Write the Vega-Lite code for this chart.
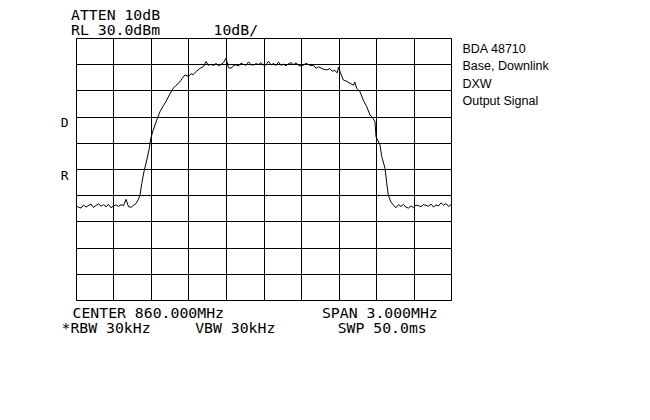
{
  "$schema": "https://vega.github.io/schema/vega-lite/v6.json",
  "width": 375,
  "height": 262,
  "autosize": {"type": "none"},
  "padding": {"left": 76, "top": 38, "right": 199, "bottom": 120},
  "background": "white",
  "config": {
    "view": {"stroke": "black", "strokeWidth": 1},
    "axis": {"domain": false, "ticks": false, "grid": true, "gridColor": "black", "gridOpacity": 1, "gridWidth": 1}
  },
  "title": {
    "text": ["ATTEN\u00a010dB", "RL\u00a030.0dBm\u00a0\u00a0\u00a0\u00a0\u00a0\u00a010dB/"],
    "anchor": "start",
    "frame": "group",
    "orient": "top",
    "baseline": "bottom",
    "dx": -5,
    "dy": 16,
    "offset": 1.5,
    "lineHeight": 14.3,
    "font": "DejaVu Sans Mono",
    "fontSize": 14.8,
    "fontWeight": "normal",
    "color": "black"
  },
  "data": {
    "values": [
      {"f": 858.50, "p": -34.0}, {"f": 858.52, "p": -34.6}, {"f": 858.54, "p": -34.9}, {"f": 858.56, "p": -33.8},
      {"f": 858.58, "p": -34.5}, {"f": 858.60, "p": -34.0}, {"f": 858.62, "p": -33.4}, {"f": 858.64, "p": -34.7},
      {"f": 858.66, "p": -33.9}, {"f": 858.68, "p": -33.3}, {"f": 858.70, "p": -34.2}, {"f": 858.72, "p": -33.6},
      {"f": 858.74, "p": -34.4}, {"f": 858.76, "p": -33.5}, {"f": 858.78, "p": -34.8}, {"f": 858.80, "p": -34.1},
      {"f": 858.82, "p": -33.7}, {"f": 858.84, "p": -34.3}, {"f": 858.86, "p": -33.6}, {"f": 858.88, "p": -34.0},
      {"f": 858.90, "p": -31.6}, {"f": 858.92, "p": -34.4}, {"f": 858.94, "p": -34.6}, {"f": 858.96, "p": -33.9},
      {"f": 858.98, "p": -33.2}, {"f": 859.00, "p": -31.5}, {"f": 859.012, "p": -29.9}, {"f": 859.026, "p": -25.5},
      {"f": 859.044, "p": -21.0}, {"f": 859.066, "p": -16.6}, {"f": 859.084, "p": -12.7}, {"f": 859.098, "p": -8.3},
      {"f": 859.118, "p": -5.1}, {"f": 859.146, "p": -1.3}, {"f": 859.172, "p": 1.9}, {"f": 859.20, "p": 4.2},
      {"f": 859.226, "p": 6.3}, {"f": 859.25, "p": 8.6}, {"f": 859.278, "p": 10.8}, {"f": 859.30, "p": 11.9},
      {"f": 859.332, "p": 13.3}, {"f": 859.35, "p": 14.6}, {"f": 859.372, "p": 15.9}, {"f": 859.40, "p": 15.3},
      {"f": 859.42, "p": 16.4}, {"f": 859.438, "p": 16.0}, {"f": 859.46, "p": 17.2}, {"f": 859.492, "p": 18.4},
      {"f": 859.52, "p": 19.1}, {"f": 859.54, "p": 21.0}, {"f": 859.56, "p": 19.6}, {"f": 859.58, "p": 19.9},
      {"f": 859.60, "p": 19.5}, {"f": 859.62, "p": 20.3}, {"f": 859.64, "p": 19.4}, {"f": 859.66, "p": 19.9},
      {"f": 859.68, "p": 20.6}, {"f": 859.70, "p": 22.3}, {"f": 859.72, "p": 18.6}, {"f": 859.74, "p": 18.5},
      {"f": 859.76, "p": 19.4}, {"f": 859.78, "p": 19.8}, {"f": 859.80, "p": 19.3}, {"f": 859.82, "p": 20.4},
      {"f": 859.84, "p": 19.9}, {"f": 859.86, "p": 19.6}, {"f": 859.88, "p": 20.9}, {"f": 859.90, "p": 19.8},
      {"f": 859.92, "p": 19.7}, {"f": 859.94, "p": 20.2}, {"f": 859.96, "p": 19.9}, {"f": 859.98, "p": 20.6},
      {"f": 860.00, "p": 19.6}, {"f": 860.02, "p": 19.8}, {"f": 860.04, "p": 21.1}, {"f": 860.06, "p": 19.7},
      {"f": 860.08, "p": 20.3}, {"f": 860.10, "p": 19.5}, {"f": 860.12, "p": 20.8}, {"f": 860.14, "p": 19.6},
      {"f": 860.16, "p": 20.0}, {"f": 860.18, "p": 19.4}, {"f": 860.20, "p": 20.2}, {"f": 860.22, "p": 20.6},
      {"f": 860.24, "p": 19.8}, {"f": 860.26, "p": 20.5}, {"f": 860.28, "p": 19.6}, {"f": 860.30, "p": 19.3},
      {"f": 860.32, "p": 19.7}, {"f": 860.34, "p": 20.3}, {"f": 860.36, "p": 19.9}, {"f": 860.38, "p": 19.4},
      {"f": 860.40, "p": 19.6}, {"f": 860.42, "p": 18.4}, {"f": 860.44, "p": 19.0}, {"f": 860.46, "p": 18.5},
      {"f": 860.48, "p": 18.1}, {"f": 860.506, "p": 17.8}, {"f": 860.53, "p": 18.3}, {"f": 860.55, "p": 17.4},
      {"f": 860.57, "p": 17.6}, {"f": 860.59, "p": 16.7}, {"f": 860.60, "p": 18.9}, {"f": 860.615, "p": 16.8},
      {"f": 860.638, "p": 14.0}, {"f": 860.66, "p": 13.6}, {"f": 860.692, "p": 12.7}, {"f": 860.72, "p": 12.0},
      {"f": 860.73, "p": 13.2}, {"f": 860.746, "p": 10.8}, {"f": 860.772, "p": 9.5}, {"f": 860.798, "p": 6.3},
      {"f": 860.826, "p": 3.8}, {"f": 860.852, "p": 0.6}, {"f": 860.87, "p": -0.2}, {"f": 860.892, "p": -2.0},
      {"f": 860.90, "p": -7.7}, {"f": 860.932, "p": -10.8}, {"f": 860.946, "p": -15.3}, {"f": 860.972, "p": -19.7},
      {"f": 860.986, "p": -25.5}, {"f": 860.998, "p": -29.9}, {"f": 861.018, "p": -32.5}, {"f": 861.038, "p": -33.7},
      {"f": 861.06, "p": -34.8}, {"f": 861.08, "p": -33.6}, {"f": 861.10, "p": -34.3}, {"f": 861.12, "p": -33.5},
      {"f": 861.14, "p": -34.6}, {"f": 861.16, "p": -34.9}, {"f": 861.18, "p": -34.1}, {"f": 861.20, "p": -34.7},
      {"f": 861.22, "p": -33.8}, {"f": 861.24, "p": -34.0}, {"f": 861.26, "p": -34.4}, {"f": 861.28, "p": -33.6},
      {"f": 861.30, "p": -33.9}, {"f": 861.32, "p": -34.2}, {"f": 861.34, "p": -33.4}, {"f": 861.36, "p": -34.5},
      {"f": 861.38, "p": -33.7}, {"f": 861.40, "p": -34.1}, {"f": 861.42, "p": -32.9}, {"f": 861.44, "p": -33.8},
      {"f": 861.46, "p": -33.2}, {"f": 861.48, "p": -34.3}, {"f": 861.50, "p": -33.6}
    ]
  },
  "mark": {"type": "line", "color": "black", "strokeWidth": 1, "clip": true},
  "encoding": {
    "x": {
      "field": "f",
      "type": "quantitative",
      "scale": {"domain": [858.5, 861.5], "nice": false, "zero": false},
      "axis": {
        "values": [858.5, 858.8, 859.1, 859.4, 859.7, 860.0, 860.3, 860.6, 860.9, 861.2, 861.5],
        "labels": false,
        "title": ["\u2800CENTER\u00a0860.000MHz\u00a0\u00a0\u00a0\u00a0\u00a0\u00a0\u00a0\u00a0\u00a0\u00a0\u00a0SPAN\u00a03.000MHz", "*RBW\u00a030kHz\u00a0\u00a0\u00a0\u00a0\u00a0VBW\u00a030kHz\u00a0\u00a0\u00a0\u00a0\u00a0\u00a0\u00a0SWP\u00a050.0ms"],
        "titleFont": "DejaVu Sans Mono",
        "titleFontSize": 14.8,
        "titleFontWeight": "normal",
        "titleColor": "black",
        "titleAlign": "left",
        "titleAnchor": "start",
        "titleBaseline": "top",
        "titleX": -15,
        "titleY": 5.5,
        "titleLineHeight": 14.5
      }
    },
    "y": {
      "field": "p",
      "type": "quantitative",
      "scale": {"domain": [-70, 30], "nice": false, "zero": false},
      "axis": {
        "values": [-70, -60, -50, -40, -30, -20, -10, 0, 10, 20, 30],
        "labelExpr": "datum.value == 0 ? 'D' : (datum.value == -20 ? 'R' : '')",
        "labelOverlap": false,
        "labelBound": false,
        "labelFont": "DejaVu Sans Mono",
        "labelFontSize": 13,
        "labelColor": "black",
        "labelBaseline": "top",
        "labelPadding": 8,
        "title": ["BDA 48710", "Base, Downlink", "DXW", "Output Signal"],
        "titleFont": "Liberation Sans",
        "titleFontSize": 12.5,
        "titleFontWeight": "normal",
        "titleColor": "black",
        "titleAngle": 0,
        "titleAlign": "left",
        "titleBaseline": "alphabetic",
        "titleX": 386,
        "titleY": 14.3,
        "titleLineHeight": 17.4
      }
    }
  }
}
